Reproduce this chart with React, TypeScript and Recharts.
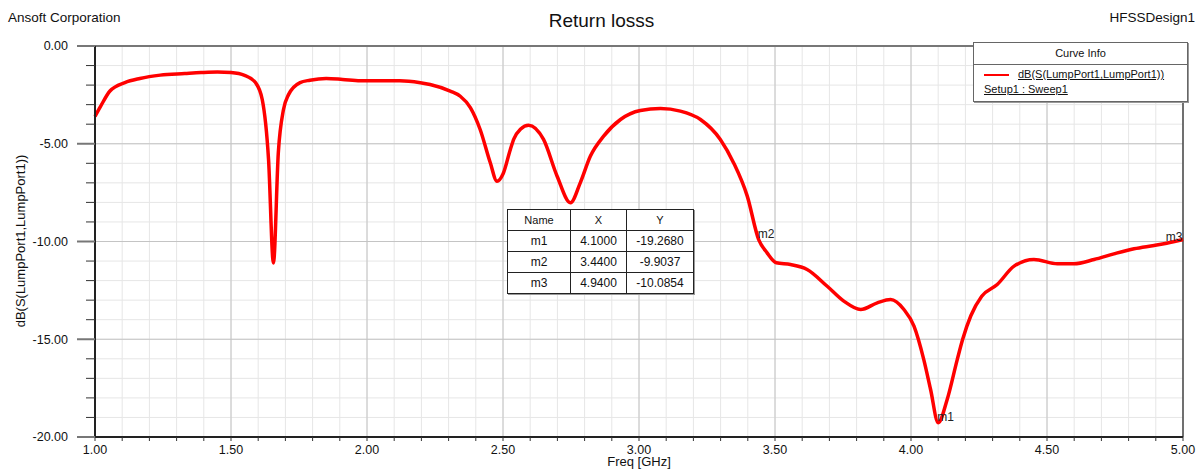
import React from 'react';
import { LineChart, Line, XAxis, YAxis, CartesianGrid, ReferenceLine, ReferenceDot } from 'recharts';

const freqs = [
  1.0, 1.02, 1.055, 1.11, 1.165, 1.24, 1.33, 1.39, 1.45, 1.5, 1.55, 1.59, 1.615, 1.638, 1.656, 1.674, 1.693, 1.711,
  1.754, 1.79, 1.85, 1.91, 1.975, 2.12, 2.196, 2.232, 2.306, 2.343, 2.38, 2.416, 2.453, 2.478, 2.5, 2.527, 2.54,
  2.565, 2.594, 2.649, 2.699, 2.748, 2.784, 2.821, 2.87, 2.932, 3.005, 3.079, 3.152, 3.226, 3.299, 3.348, 3.398,
  3.44, 3.471, 3.505, 3.557, 3.618, 3.692, 3.753, 3.815, 3.876, 3.925, 3.974, 4.011, 4.047, 4.072, 4.1, 4.133,
  4.17, 4.19, 4.22, 4.26, 4.317, 4.379, 4.452, 4.538, 4.599, 4.673, 4.746, 4.82, 4.894, 4.94, 5.0,
];
const dbValues = [
  -3.6, -3.1, -2.3, -1.87, -1.66, -1.49, -1.41, -1.36, -1.33, -1.36, -1.5, -1.87, -2.75, -5.8, -11.1, -5.45, -3.25, -2.5,
  -1.87, -1.75, -1.66, -1.71, -1.78, -1.78, -1.88, -1.97, -2.31, -2.57, -3.15, -4.27, -5.96, -6.92, -6.55, -5.29, -4.75,
  -4.25, -4.05, -4.78, -6.66, -8.02, -7.0, -5.64, -4.61, -3.76, -3.3, -3.2, -3.33, -3.76, -4.78, -5.98, -7.68,
  -9.9037, -10.58, -11.09, -11.18, -11.43, -12.29, -13.05, -13.48, -13.14, -12.97, -13.48, -14.33, -16.04, -17.57, -19.268, -18.08,
  -16.04, -15.0, -13.8, -12.8, -12.2, -11.26, -10.92, -11.14, -11.14, -10.92, -10.63, -10.37, -10.2, -10.0854, -9.9,
];

const xTicks = [
  1.0, 1.1, 1.2, 1.3, 1.4, 1.5, 1.6, 1.7, 1.8, 1.9, 2.0, 2.1, 2.2, 2.3, 2.4, 2.5, 2.6, 2.7, 2.8, 2.9, 3.0,
  3.1, 3.2, 3.3, 3.4, 3.5, 3.6, 3.7, 3.8, 3.9, 4.0, 4.1, 4.2, 4.3, 4.4, 4.5, 4.6, 4.7, 4.8, 4.9, 5.0,
];
const xMajor = [1.5, 2.0, 2.5, 3.0, 3.5, 4.0, 4.5];
const yTicks = [0, -1, -2, -3, -4, -5, -6, -7, -8, -9, -10, -11, -12, -13, -14, -15, -16, -17, -18, -19, -20];
const yMajor = [-5, -10, -15];

const markerNames = ['m1', 'm2', 'm3'];
const markerX = [4.1, 3.44, 4.94];
const markerY = [-19.268, -9.9037, -10.0854];

const data = freqs.map((f, i) => ({ freq: f, db: dbValues[i] }));

const FONT = '"Liberation Sans", Arial, sans-serif';

const isMajor = (v: number, step: number) => Math.abs(v / step - Math.round(v / step)) < 1e-6;

const XTick = (props: any) => {
  const { x, y, payload } = props;
  const v = payload.value;
  return (
    <g>
      <line x1={x} x2={x} y1={y} y2={y + 4} stroke="#333" strokeWidth={1} />
      {isMajor(v, 0.5) && (
        <text x={x} y={y + 17} textAnchor="middle" fontSize={12.5} fill="#111" fontFamily={FONT}>
          {v.toFixed(2)}
        </text>
      )}
    </g>
  );
};

const YTick = (props: any) => {
  const { x, y, payload } = props;
  const v = payload.value;
  const major = isMajor(v, 5);
  return (
    <g>
      <line x1={major ? x - 18 : x - 9} x2={x} y1={y} y2={y} stroke={major ? '#777' : '#333'} strokeWidth={major ? 2 : 1} />
      {major && (
        <text x={x - 27} y={y} dy="0.35em" textAnchor="end" fontSize={12.5} fill="#111" fontFamily={FONT}>
          {v.toFixed(2)}
        </text>
      )}
    </g>
  );
};

const MarkerLabel = (name: string) => (props: any) => (
  <text x={props.cx - 1} y={props.cy - 2} fontSize={12} fill="#222" fontFamily={FONT}>
    {name}
  </text>
);

export default function App() {
  return (
    <div style={{ position: 'absolute', left: 0, top: 0, width: 1203, height: 470, fontFamily: FONT, background: '#fff' }}>
      <div style={{ position: 'absolute', left: 8, top: 10, fontSize: 13.5, color: '#111' }}>Ansoft Corporation</div>
      <div style={{ position: 'absolute', left: 0, width: 1203, top: 10, textAlign: 'center', fontSize: 19, color: '#111' }}>
        Return losss
      </div>
      <div style={{ position: 'absolute', right: 8, top: 10, fontSize: 13.5, color: '#111' }}>HFSSDesign1</div>

      <LineChart width={1203} height={470} data={data} margin={{ top: 46, right: 20, bottom: 3, left: 25 }}>
        <CartesianGrid stroke="#e6e6e6" strokeWidth={1} />
        {xMajor.map((v) => (
          <ReferenceLine key={'x' + v} x={v} stroke="#c4c4c4" strokeWidth={1} />
        ))}
        {yMajor.map((v) => (
          <ReferenceLine key={'y' + v} y={v} stroke="#c4c4c4" strokeWidth={1} />
        ))}
        <ReferenceLine y={0} stroke="#777" strokeWidth={2} />
        <ReferenceLine x={5} stroke="#444" strokeWidth={1.5} />
        <XAxis
          dataKey="freq"
          type="number"
          domain={[1, 5]}
          ticks={xTicks}
          interval={0}
          height={30}
          tickSize={0}
          tickMargin={0}
          tickLine={false}
          tick={<XTick />}
          axisLine={{ stroke: '#222', strokeWidth: 2 }}
        />
        <YAxis
          type="number"
          domain={[-20, 0]}
          ticks={yTicks}
          interval={0}
          width={70}
          tickSize={0}
          tickMargin={0}
          tickLine={false}
          tick={<YTick />}
          axisLine={{ stroke: '#222', strokeWidth: 2 }}
        />
        <Line
          type="monotone"
          dataKey="db"
          stroke="#ff0000"
          strokeWidth={3.5}
          dot={false}
          isAnimationActive={false}
        />
        {markerNames.map((n, i) => (
          <ReferenceDot key={n} x={markerX[i]} y={markerY[i]} r={0} shape={MarkerLabel(n)} />
        ))}
      </LineChart>

      <div
        style={{
          position: 'absolute',
          left: 6,
          top: 241,
          transform: 'translate(-50%, -50%) rotate(-90deg)',
          transformOrigin: 'center',
          fontSize: 13,
          whiteSpace: 'nowrap',
          color: '#111',
          marginLeft: 14,
        }}
      >
        dB(S(LumpPort1,LumpPort1))
      </div>
      <div style={{ position: 'absolute', left: 95, width: 1088, top: 454, textAlign: 'center', fontSize: 13, color: '#111' }}>
        Freq [GHz]
      </div>

      <div
        style={{
          position: 'absolute',
          left: 973,
          top: 42,
          width: 213,
          height: 58,
          background: '#fff',
          border: '1px solid #666',
          boxShadow: '1px 1px 0 #999',
          fontSize: 11,
          color: '#111',
        }}
      >
        <div style={{ height: 21, lineHeight: '21px', textAlign: 'center', borderBottom: '1px solid #666' }}>Curve Info</div>
        <div style={{ position: 'relative', height: 18 }}>
          <div style={{ position: 'absolute', left: 10, top: 9, width: 25, height: 2, background: '#ff0000' }} />
          <div style={{ position: 'absolute', left: 44, top: 3, textDecoration: 'underline' }}>dB(S(LumpPort1,LumpPort1))</div>
        </div>
        <div style={{ paddingLeft: 10, textDecoration: 'underline' }}>Setup1 : Sweep1</div>
      </div>

      <table
        style={{
          position: 'absolute',
          left: 507,
          top: 209,
          borderCollapse: 'collapse',
          background: '#fff',
          fontSize: 11,
          color: '#111',
          boxShadow: '1px 1px 0 #999',
        }}
      >
        <tbody>
          <tr style={{ height: 21 }}>
            {['Name', 'X', 'Y'].map((h, j) => (
              <td
                key={h}
                style={{ border: '1px solid #222', textAlign: 'center', padding: 0, width: [62, 55, 66][j] }}
              >
                {h}
              </td>
            ))}
          </tr>
          {markerNames.map((n, i) => (
            <tr key={n} style={{ height: 21 }}>
              <td style={{ border: '1px solid #222', textAlign: 'center', padding: 0, fontSize: 12 }}>{n}</td>
              <td style={{ border: '1px solid #222', textAlign: 'center', padding: 0, fontSize: 12 }}>{markerX[i].toFixed(4)}</td>
              <td style={{ border: '1px solid #222', textAlign: 'center', padding: 0, fontSize: 12 }}>{markerY[i].toFixed(4)}</td>
            </tr>
          ))}
        </tbody>
      </table>
    </div>
  );
}
